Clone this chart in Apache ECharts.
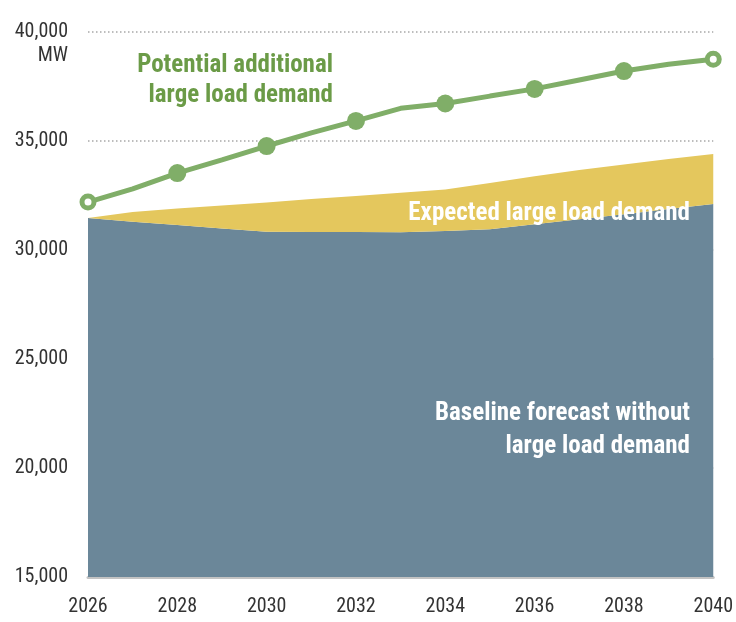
<!DOCTYPE html>
<html>
<head>
<meta charset="utf-8">
<title>Load forecast</title>
<script src="https://cdn.jsdelivr.net/npm/echarts@6/dist/echarts.min.js"></script>
<style>
  html, body { margin: 0; padding: 0; background: #ffffff; }
  #chart { width: 736px; height: 622px; }
</style>
</head>
<body>
<div id="chart"></div>
<script>
// Forecast years
const years = ['2026', '2027', '2028', '2029', '2030', '2031', '2032', '2033', '2034', '2035', '2036', '2037', '2038', '2039', '2040'];

// Baseline forecast without large load demand (MW)
const baselineMW = [31470, 31300, 31150, 30990, 30840, 30830, 30820, 30810, 30870, 30950, 31180, 31410, 31640, 31880, 32110];

// Expected large load demand on top of the baseline (MW)
const expectedLargeMW = [0, 440, 750, 1050, 1340, 1510, 1660, 1820, 1910, 2120, 2200, 2260, 2280, 2290, 2290];

// Forecast including potential additional large load demand (MW)
const potentialMW = [32200, 32800, 33530, 34130, 34770, 35370, 35920, 36500, 36720, 37060, 37390, 37800, 38210, 38520, 38750];

// Axis ticks
const yTicks = [15000, 20000, 25000, 30000, 35000, 40000];
const markerYears = ['2026', '2028', '2030', '2032', '2034', '2036', '2038', '2040'];

const FONT = "'Roboto Condensed', 'DejaVu Sans Condensed', 'Liberation Sans Narrow', 'Arial Narrow', sans-serif";
const GREEN_LINE = '#80ae68';
const GREEN_TEXT = '#6b9b47';
const BLUE = '#6b8799';
const YELLOW = '#e4c75d';

// Hollow end markers, filled markers on even years, none in between
const potentialData = years.map((y, i) => {
  const first = i === 0;
  const last = i === years.length - 1;
  const item = { value: potentialMW[i] };
  if (first || last) {
    item.symbol = 'circle';
    item.symbolSize = 12;
    item.itemStyle = { color: '#ffffff', borderColor: GREEN_LINE, borderWidth: 5 };
  } else if (markerYears.includes(y)) {
    item.symbol = 'circle';
    item.symbolSize = 18;
    item.itemStyle = { color: GREEN_LINE, borderWidth: 0 };
  } else {
    item.symbol = 'none';
  }
  return item;
});

const chart = echarts.init(document.getElementById('chart'), null, { renderer: 'canvas' });

chart.setOption({
  animation: false,
  backgroundColor: '#ffffff',
  grid: { left: 88, right: 19, top: 32, bottom: 45, containLabel: false },
  xAxis: {
    type: 'category',
    data: years,
    boundaryGap: false,
    axisLine: { show: true, lineStyle: { color: '#c3c3c3', width: 3 } },
    axisTick: { show: false },
    splitLine: { show: false },
    axisLabel: {
      margin: 20,
      interval: 1,
      fontFamily: FONT,
      fontSize: 20,
      color: '#333333'
    }
  },
  yAxis: {
    type: 'value',
    min: yTicks[0],
    max: yTicks[yTicks.length - 1],
    interval: 5000,
    axisLine: { show: false },
    axisTick: { show: false },
    splitLine: { show: true, lineStyle: { color: '#a8a8a8', width: 1.5, type: [1.5, 2.5] } },
    axisLabel: {
      margin: 20,
      fontFamily: FONT,
      fontSize: 20,
      color: '#333333',
      formatter: (v) => v.toLocaleString('en-US')
    }
  },
  series: [
    {
      name: 'Baseline forecast without large load demand',
      type: 'line',
      stack: 'demand',
      data: baselineMW,
      symbol: 'none',
      lineStyle: { width: 0 },
      areaStyle: { color: BLUE, opacity: 1 },
      z: 2
    },
    {
      name: 'Expected large load demand',
      type: 'line',
      stack: 'demand',
      data: expectedLargeMW,
      symbol: 'none',
      lineStyle: { width: 0 },
      areaStyle: { color: YELLOW, opacity: 1 },
      z: 2
    },
    {
      name: 'Potential additional large load demand',
      type: 'line',
      data: potentialData,
      showAllSymbol: true,
      lineStyle: { color: GREEN_LINE, width: 5 },
      itemStyle: { color: GREEN_LINE },
      z: 5
    }
  ],
  graphic: [
    {
      type: 'text', x: 68, y: 56,
      style: { text: 'MW', fill: '#333333', font: '20px ' + FONT, align: 'right', verticalAlign: 'middle' }
    },
    {
      type: 'text', x: 333, y: 81,
      style: {
        text: 'Potential additional\nlarge load demand',
        fill: GREEN_TEXT, font: 'bold 25px ' + FONT, align: 'right', verticalAlign: 'middle', lineHeight: 30
      },
      z: 10
    },
    {
      type: 'text', x: 690, y: 214,
      style: {
        text: 'Expected large load demand',
        fill: '#ffffff', font: 'bold 25px ' + FONT, align: 'right', verticalAlign: 'middle'
      },
      z: 10
    },
    {
      type: 'text', x: 690, y: 430,
      style: {
        text: 'Baseline forecast without\nlarge load demand',
        fill: '#ffffff', font: 'bold 25px ' + FONT, align: 'right', verticalAlign: 'middle', lineHeight: 33
      },
      z: 10
    }
  ]
});
</script>
</body>
</html>
